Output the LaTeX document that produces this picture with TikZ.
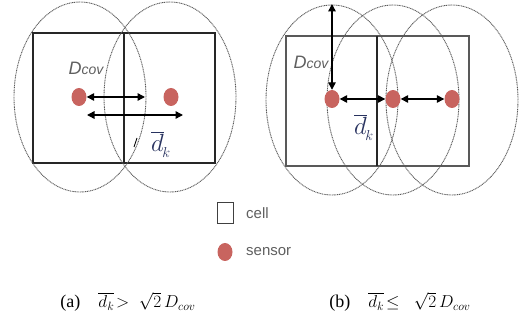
\documentclass[tikz,border=0pt]{standalone}
\usepackage{amsmath,amssymb}
\usepackage{fontspec}
\setmainfont{Liberation Serif}
\setsansfont{Liberation Sans}
\usepackage{tikz}
\usetikzlibrary{positioning,calc}
\usetikzlibrary{arrows.meta,shapes.geometric}
\definecolor{SensorRed}{RGB}{200,100,95}
\definecolor{RangeGray}{RGB}{90,90,90}
\definecolor{LabelGray}{RGB}{95,95,95}
\definecolor{DkBlue}{RGB}{40,50,95}
\tikzset{
  cellbox/.style={draw=black!85,line width=1.1pt},
  covrange/.style={ellipse,draw=RangeGray,dash pattern=on 1pt off 0.7pt,line width=0.9pt,minimum width=132pt,minimum height=190pt,inner sep=0pt},
  sensor/.style={ellipse,fill=SensorRed,minimum width=15pt,minimum height=18pt,inner sep=0pt},
  darr/.style={draw=black,line width=1.4pt,{Triangle[length=7.5pt,width=7.5pt]}-{Triangle[length=7.5pt,width=7.5pt]}},
}
\tikzset{dcov/.style={font=\sffamily\itshape\fontsize{18}{20}\selectfont,text=LabelGray,inner sep=0pt}, dk/.style={text=DkBlue,inner sep=0pt}, legtxt/.style={font=\sffamily\fontsize{15}{17}\selectfont,text=LabelGray,anchor=west,inner sep=0pt}, capt/.style={font=\fontsize{18}{20}\selectfont,inner sep=0pt}}

\begin{document}
\begin{tikzpicture}[x=1pt,y=-1pt]
\useasboundingbox (0,0) rectangle (520,320);
% panel (a)
\draw[cellbox] (33,33) rectangle (124,163);
\draw[cellbox] (124,33) rectangle (215,163);
\node[covrange] (ra1) at (80,97) {};
\node[covrange] (ra2) at (170,97) {};
\node[sensor] (sa1) at (79,97) {};
\node[sensor] (sa2) at (171,97) {};
\coordinate (a1end) at (145,97);
\coordinate (a2beg) at (87,115);
\coordinate (a2end) at (183,115);
\draw[darr] (sa1.east) -- (a1end);
\draw[darr] (a2beg) -- (a2end);
\draw[black,line width=0.8pt] (134,147) -- (137,138);
\node[dcov] (dcova) at (86,68) {D{\fontsize{14}{16}\selectfont cov}};
\node[dk] (dka) at (161,145) {$\overline{\raisebox{0pt}{\Huge$d$}}_{\!\text{\Large$k$}}$};
% panel (b)
\draw[cellbox,draw=black!65,line width=1.6pt] (286,36) rectangle (469,166);
\draw[cellbox] (377,36) -- (377,166);
\node[covrange] (rb1) at (332,100) {};
\node[covrange] (rb2) at (393,100) {};
\node[covrange] (rb3) at (452,100) {};
\node[sensor] (sb1) at (332,99) {};
\node[sensor] (sb2) at (393,99) {};
\node[sensor] (sb3) at (452,99) {};
\coordinate (dtop) at (332,4);
\draw[darr] (sb1.north) -- (dtop);
\draw[darr] (sb1.east) -- (sb2.west);
\draw[darr] (sb2.east) -- (sb3.west);
\node[dcov] (dcovb) at (311,62) {D{\fontsize{14}{16}\selectfont cov}};
\node[dk] (dkb) at (364,128) {$\overline{\raisebox{0pt}{\Huge$d$}}_{\!\text{\Large$k$}}$};
% legend
\node[draw=black!75,line width=1pt,minimum width=16pt,minimum height=21pt,inner sep=0pt] (legcell) at (225,213) {};
\node[legtxt] (legcelltxt) at (246,213) {cell};
\node[sensor] (legsensor) at (225,252) {};
\node[legtxt] (legsensortxt) at (246,252) {sensor};
% captions
\node[capt] (capa) at (128,302) {(a)\quad$\overline{d_k}\!>\;\sqrt{2}\,D_{cov}$};
\node[capt] (capb) at (400,302) {(b)\quad$\overline{d_k}\!\leq\;\;\sqrt{2}\,D_{cov}$};
\end{tikzpicture}
\end{document}
